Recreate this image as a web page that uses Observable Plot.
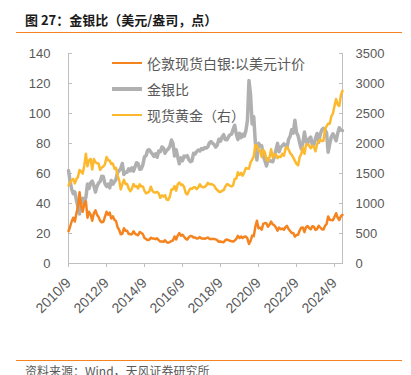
<!DOCTYPE html>
<html><head><meta charset="utf-8">
<script src="https://cdn.jsdelivr.net/npm/d3@7"></script>
<script src="https://cdn.jsdelivr.net/npm/@observablehq/plot@0.6"></script>
<style>
body{margin:0;background:#fff;}
#wrap{position:relative;width:411px;height:375px;overflow:hidden;background:#fff;}
#title{position:absolute;left:25px;top:10px;font:bold 13px "Noto Sans CJK SC",sans-serif;color:#1a1a1a;white-space:nowrap;}
.rule{position:absolute;left:16px;width:386px;height:1px;background:#F5841F;}
#footer{position:absolute;left:25px;top:362px;font:12px "Noto Sans CJK SC",sans-serif;color:#595959;white-space:nowrap;}
#chart{position:absolute;left:0;top:0;}
#legend{position:absolute;left:112px;top:53px;font:14px "Noto Sans CJK SC",sans-serif;color:#595959;}
.row{position:absolute;left:0;height:20px;display:flex;align-items:center;white-space:nowrap;}
.sw{width:30px;margin-right:5px;}
</style></head>
<body><div id="wrap">
<div id="title">图 27：金银比（美元/盎司，点）</div>
<div class="rule" style="top:32px"></div>
<div id="chart"></div>
<div id="legend"></div>
<div class="rule" style="top:360px"></div>
<div id="footer">资料来源：Wind，天风证券研究所</div>
</div>
<script>
// Series names
const seriesNames = ["伦敦现货白银:以美元计价", "金银比", "现货黄金（右）"];
const seriesColors = ["#F5841F", "#B0B0B0", "#FDB92E"];
// Monthly values, 2010/9 .. 2025/2
const silver = [
21.5,24.5,28.0,30.5,
28.0,33.5,37.8,47.5,38.5,34.5,40.0,41.5,30.5,34.5,32.5,28.5,
33.5,35.5,32.5,31.0,28.5,27.5,27.8,31.0,34.5,32.5,34.0,30.0,
31.5,29.0,28.5,24.2,22.5,19.5,19.8,23.5,21.8,21.8,19.8,19.5,
19.5,21.5,20.0,19.2,18.8,21.0,20.4,19.5,17.0,16.3,15.6,15.8,
17.2,16.6,16.6,16.2,16.8,15.6,14.7,14.6,14.5,15.5,14.1,13.9,
14.3,15.0,15.4,18.0,16.0,18.6,20.3,18.6,19.2,17.8,16.5,16.0,
17.5,18.4,18.2,17.3,17.4,16.6,16.8,17.6,16.7,16.7,16.5,16.9,
17.3,16.4,16.3,16.4,16.4,16.1,15.5,14.5,14.6,14.4,14.2,15.5,
16.0,15.6,15.1,14.9,14.6,15.3,16.4,18.4,17.0,18.0,17.0,17.9,
18.0,16.6,13.0,15.0,18.6,18.2,24.4,28.5,23.5,23.9,22.6,26.4,
27.0,26.7,24.5,25.9,27.9,26.1,25.5,24.0,21.9,24.0,22.9,23.3,
22.5,24.3,25.1,23.0,21.7,20.3,20.3,17.9,19.0,19.2,22.0,23.9,
24.0,20.9,24.1,25.0,23.6,22.8,24.8,24.5,22.4,22.9,25.2,24.0,
22.9,22.7,25.0,26.3,31.4,29.2,29.0,28.9,31.2,33.5,30.5,29.0,
31.5,32.5];
const ratio = [
62,55,49.5,46.5,
47.7,42,38,33,40,43.5,40.7,44,53,50,53.7,55,
52,47.6,51.4,53.7,54.7,58.2,58,53.2,51.4,52.9,50.4,55.3,
52.9,54.5,56,60.7,61.8,63.3,66.7,59.4,60.8,60.8,63.1,61.8,
63.8,61.6,64.3,67.2,66.5,62.9,63,65.9,71.2,71.8,75.6,75.9,
74.4,72.9,71.4,73.1,70.8,75,74.5,77.7,76.9,73.5,75.5,76.3,
78,82.3,80.2,71.7,75.9,71,66.5,70.4,68.5,71.6,71.2,71.9,
69.1,67.9,68.4,73.4,73,74.7,75.6,75,76.6,76,77.3,76.9,
77.7,80.5,81.3,80.2,79.3,77.6,79,82.8,81.5,84.4,85.9,82.6,
82.5,84.3,85.8,86.2,89.4,92.2,86.3,82.6,86.8,83.9,86.2,84.9,
88.3,95.5,122,112.3,93,97.8,80.9,69,80.2,78.7,78.5,71.8,
68.5,65,69.8,68.3,68.3,67.8,71.2,75.6,80.1,74.4,77.5,78.5,
79.8,78.6,77.3,82.6,84.8,89.2,86.9,95.5,87.4,85.2,80.5,76.4,
80.4,87.6,81.7,79.6,83.3,84.2,79.2,79.2,83.5,86.7,80.8,86,
89.1,90.1,89.2,87.1,74.2,79.8,84.5,86.5,84.3,81.8,86.9,90.5,
88.9,88.6];
const gold = [
1300,1350,1385,1410,
1335,1410,1440,1560,1535,1500,1630,1830,1620,1720,1745,1565,
1740,1690,1670,1665,1560,1600,1615,1650,1775,1720,1715,1660,
1665,1580,1595,1470,1390,1235,1320,1395,1325,1325,1250,1205,
1245,1325,1285,1290,1250,1320,1285,1285,1210,1170,1180,1200,
1280,1210,1185,1185,1190,1170,1095,1135,1115,1140,1065,1060,
1115,1235,1235,1290,1215,1320,1350,1310,1315,1275,1175,1150,
1210,1250,1245,1270,1270,1240,1270,1320,1280,1270,1275,1300,
1345,1320,1325,1315,1300,1250,1225,1200,1190,1215,1220,1280,
1320,1315,1295,1285,1305,1410,1415,1520,1475,1510,1465,1520,
1590,1585,1580,1685,1730,1780,1975,1965,1885,1880,1775,1895,
1850,1735,1710,1770,1905,1770,1815,1815,1755,1785,1775,1830,
1795,1910,1940,1900,1840,1810,1765,1710,1660,1635,1770,1825,
1930,1830,1970,1990,1965,1920,1965,1940,1870,1985,2035,2065,
2040,2045,2230,2290,2330,2330,2450,2500,2630,2740,2650,2625,
2800,2880];
const leftTicks = [0,20,40,60,80,100,120,140];
const rightTicks = [0,500,1000,1500,2000,2500,3000,3500];
const xTickLabels = ["2010/9","2012/9","2014/9","2016/9","2018/9","2020/9","2022/9","2024/9"];
const firstMonth = "2010/9", lastMonth = "2025/2";

const parseYM = s => { const [y,m] = s.split("/").map(Number); return new Date(Date.UTC(y, m-1, 1)); };
const d0 = parseYM(firstMonth), d1 = parseYM(lastMonth);
const dates = d3.utcMonth.range(d0, d3.utcMonth.offset(d1, 1));
const k = rightTicks[rightTicks.length-1] / leftTicks[leftTicks.length-1]; // right/left scale ratio

const rows = dates.map((date,i) => ({date, silver: silver[i], ratio: ratio[i], gold: gold[i] / k}));
const axisColor = "#BFBFBF";
const noText = () => "";
const chart = Plot.plot({
  width: 411, height: 375,
  marginLeft: 68, marginRight: 69, marginTop: 53, marginBottom: 112,
  style: {fontFamily: "'Liberation Sans', Arial, sans-serif", fontSize: "13px", color: "#595959", background: "transparent"},
  x: {type: "utc", domain: [d0, d1]},
  y: {domain: [leftTicks[0], leftTicks[leftTicks.length-1]]},
  marks: [
    Plot.ruleX([d0], {stroke: axisColor}),
    Plot.ruleX([d1], {stroke: axisColor}),
    Plot.ruleY([0], {stroke: axisColor}),
    Plot.axisY({anchor: "left", ticks: leftTicks, tickSize: -4, stroke: axisColor, tickFormat: noText, label: null}),
    Plot.axisY({anchor: "left", ticks: leftTicks, tickSize: 0, tickPadding: 18, fill: "#595959", label: null}),
    Plot.axisY({anchor: "right", ticks: rightTicks.map(v => v/k), tickSize: -4, stroke: axisColor, tickFormat: noText, label: null}),
    Plot.axisY({anchor: "right", ticks: rightTicks.map(v => v/k), tickSize: 0, tickPadding: 13, fill: "#595959", label: null,
      tickFormat: v => String(Math.round(v*k))}),
    Plot.axisX({anchor: "bottom", ticks: xTickLabels.map(parseYM), tickSize: 4, stroke: axisColor, tickFormat: noText, label: null}),
    Plot.axisX({anchor: "bottom", ticks: xTickLabels.map(parseYM), tickSize: 0, tickPadding: 17, tickRotate: -45, fill: "#595959", label: null,
      fontSize: 14, tickFormat: d => `${d.getUTCFullYear()}/${d.getUTCMonth()+1}`}),
    Plot.lineY(rows, {x: "date", y: "ratio", stroke: seriesColors[1], strokeWidth: 3.5}),
    Plot.lineY(rows, {x: "date", y: "silver", stroke: seriesColors[0], strokeWidth: 2.5}),
    Plot.lineY(rows, {x: "date", y: "gold", stroke: seriesColors[2], strokeWidth: 2.5})
  ]
});
document.getElementById("chart").appendChild(chart);

const legend = document.getElementById("legend");
const legendWidths = [2, 4, 2];
seriesNames.forEach((name, i) => {
  const row = document.createElement("div");
  row.className = "row";
  row.style.top = (i * 26) + "px";
  row.innerHTML = `<svg class="sw" width="30" height="6"><line x1="0" x2="30" y1="3" y2="3" stroke="${seriesColors[i]}" stroke-width="${legendWidths[i]}"/></svg><span>${name}</span>`;
  legend.appendChild(row);
});
</script>
</body></html>
